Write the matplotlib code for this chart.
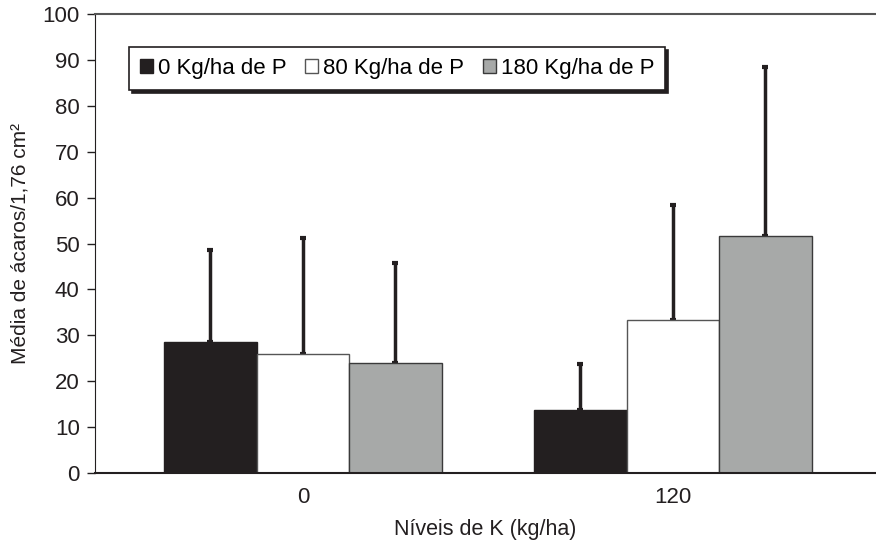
import matplotlib.pyplot as plt
import numpy as np

plt.rcParams['font.family'] = ['Liberation Sans', 'DejaVu Sans']

# data
k_levels = ['0', '120']
p_labels = ['0 Kg/ha de P', '80 Kg/ha de P', '180 Kg/ha de P']
means_p0 = [28.5, 13.7]
means_p80 = [25.9, 33.3]
means_p180 = [24.0, 51.6]
err_p0 = [20.0, 10.0]
err_p80 = [25.2, 25.0]
err_p180 = [21.7, 36.8]

colors = ['#231f20', '#ffffff', '#a7a9a8']
edges = ['#231f20', '#555555', '#3a3a3a']

fig = plt.figure(figsize=(8.76, 5.45), dpi=100)
ax = fig.add_axes([95 / 876, 1 - 473 / 545, 1 - 95 / 876, (473 - 14) / 545])

x = np.arange(len(k_levels))
w = 0.25
series = [(means_p0, err_p0), (means_p80, err_p80), (means_p180, err_p180)]
for i, (m, e) in enumerate(series):
    xs = x + (i - 1) * w
    ax.bar(xs, m, width=w, color=colors[i], edgecolor=edges[i], linewidth=1.0,
           label=p_labels[i], zorder=2)
    ax.errorbar(xs, m, yerr=[np.zeros(len(e)), e], fmt='none', ecolor='#231f20',
                elinewidth=2.5, capsize=2.2, capthick=3, zorder=1)

ax.set_xlim(-0.562, 1.549)
ax.set_ylim(0, 100)
ax.set_yticks(range(0, 101, 10))
ax.set_xticks(x)
ax.set_xticklabels(k_levels)
ax.tick_params(axis='x', length=0, pad=10, labelsize=16, colors='#231f20')
ax.tick_params(axis='y', length=6, width=1, direction='out', labelsize=16,
               colors='#231f20', pad=5)
ax.spines['right'].set_visible(False)
ax.spines['top'].set_color('#555555')
ax.spines['top'].set_linewidth(1.5)
ax.spines['left'].set_color('#231f20')
ax.spines['bottom'].set_color('#231f20')
ax.spines['bottom'].set_linewidth(1.5)

ax.set_ylabel('Média de ácaros/1,76 cm²', fontsize=15, color='#231f20', labelpad=9)
ax.set_xlabel('Níveis de K (kg/ha)', fontsize=15.5, color='#231f20', labelpad=8)

leg = ax.legend(loc='upper left', bbox_to_anchor=(0.029, 0.952), ncol=3,
                fontsize=16, frameon=True, fancybox=False,
                shadow={'color': '#231f20', 'alpha': 1},
                edgecolor='#231f20', handlelength=0.6, handleheight=0.6,
                handletextpad=0.2, columnspacing=0.85, borderpad=0.5)
leg.get_frame().set_linewidth(1.2)

fig.savefig('out.png', dpi=100)
